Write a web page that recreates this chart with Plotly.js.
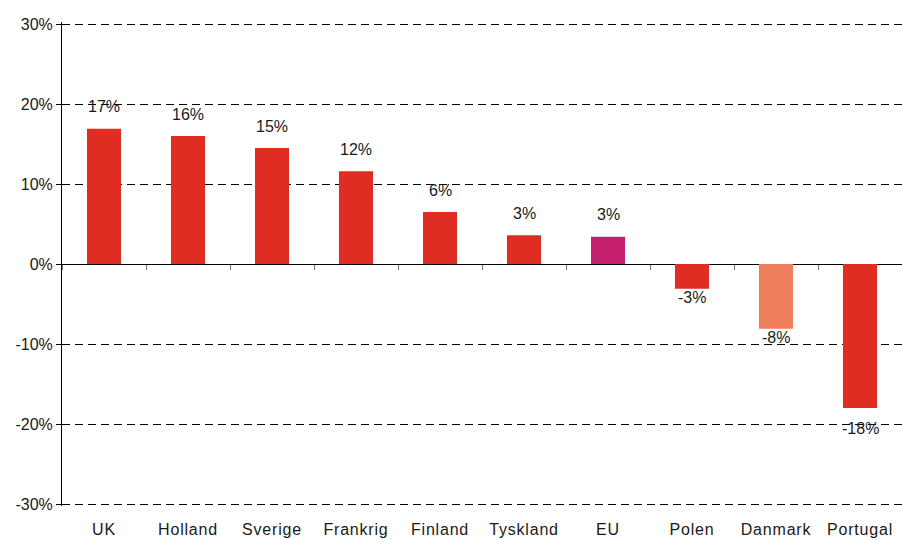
<!DOCTYPE html>
<html>
<head>
<meta charset="utf-8">
<script src="https://cdn.plot.ly/plotly-3.0.1.min.js"></script>
<style>
html,body{margin:0;padding:0;background:#fff;}
#chart{width:902px;height:540px;}
.xtick text{letter-spacing:0.8px;}
</style>
</head>
<body>
<div id="chart"></div>
<script>
// Data
var countries = ["UK", "Holland", "Sverige", "Frankrig", "Finland", "Tyskland", "EU", "Polen", "Danmark", "Portugal"];
var changePct = [16.9, 16.0, 14.5, 11.6, 6.5, 3.6, 3.4, -3.1, -8.1, -18.0];
var labels = ["17%", "16%", "15%", "12%", "6%", "3%", "3%", "-3%", "-8%", "-18%"];
var yTickVals = [-30, -20, -10, 0, 10, 20, 30];
var yTickText = ["-30%", "-20%", "-10%", "0%", "10%", "20%", "30%"];

// Styles
var RED = "#E02D24", MAGENTA = "#C4206F", SALMON = "#EE7D5C";
var barColors = countries.map(function (c) {
  if (c === "EU") return MAGENTA;
  if (c === "Danmark") return SALMON;
  return RED;
});
var FONT = "Liberation Sans, Arial, sans-serif";

var bars = {
  type: "bar",
  x: countries,
  y: changePct,
  marker: { color: barColors, line: { width: 0 } },
  width: 0.405,
  hoverinfo: "skip",
  showlegend: false
};
// invisible helper trace for the category axis drawn at zero
var helper = {
  type: "scatter",
  mode: "markers",
  x: countries,
  y: countries.map(function () { return null; }),
  xaxis: "x2",
  yaxis: "y",
  showlegend: false,
  hoverinfo: "skip"
};

var annotations = countries.map(function (c, i) {
  var v = changePct[i];
  var shift;
  if (v >= 0) shift = 22;
  else if (v > -15) shift = -9;
  else shift = -20;
  return {
    x: c, y: v, xref: "x", yref: "y",
    text: labels[i], showarrow: false,
    yanchor: "middle", yshift: shift,
    font: { family: FONT, size: 16, color: "#1a1a1a" }
  };
});

var layout = {
  width: 902, height: 540,
  margin: { l: 62, r: 0, t: 22, b: 34 },
  paper_bgcolor: "#fff", plot_bgcolor: "#fff",
  font: { family: FONT, size: 16, color: "#1a1a1a" },
  xaxis: {
    type: "category",
    categoryorder: "array", categoryarray: countries,
    range: [-0.5, countries.length - 0.5],
    showline: false, showgrid: false, zeroline: false,
    ticks: "", ticklabelstandoff: 12,
    tickfont: { family: FONT, size: 16, color: "#1a1a1a" },
    fixedrange: true
  },
  xaxis2: {
    type: "category",
    categoryorder: "array", categoryarray: countries,
    range: [-0.5, countries.length - 0.5],
    overlaying: "x", anchor: "free", position: 0.5,
    showline: false, showgrid: false, zeroline: false,
    showticklabels: false,
    ticks: "outside", tickson: "boundaries", ticklen: 5, tickwidth: 1, tickcolor: "#777",
    fixedrange: true
  },
  yaxis: {
    range: [-30.25, 30.25],
    tickmode: "array",
    tickvals: yTickVals,
    ticktext: yTickText,
    showline: true, linecolor: "#000", linewidth: 1,
    ticks: "outside", ticklen: 5, tickcolor: "#000",
    showgrid: true, gridcolor: "#000", gridwidth: 1, griddash: "8px,5px",
    zeroline: true, zerolinecolor: "#000", zerolinewidth: 1,
    tickfont: { family: FONT, size: 16, color: "#1a1a1a" },
    fixedrange: true
  },
  annotations: annotations
};

Plotly.newPlot("chart", [bars, helper], layout, { displayModeBar: false, staticPlot: true });
</script>
</body>
</html>
